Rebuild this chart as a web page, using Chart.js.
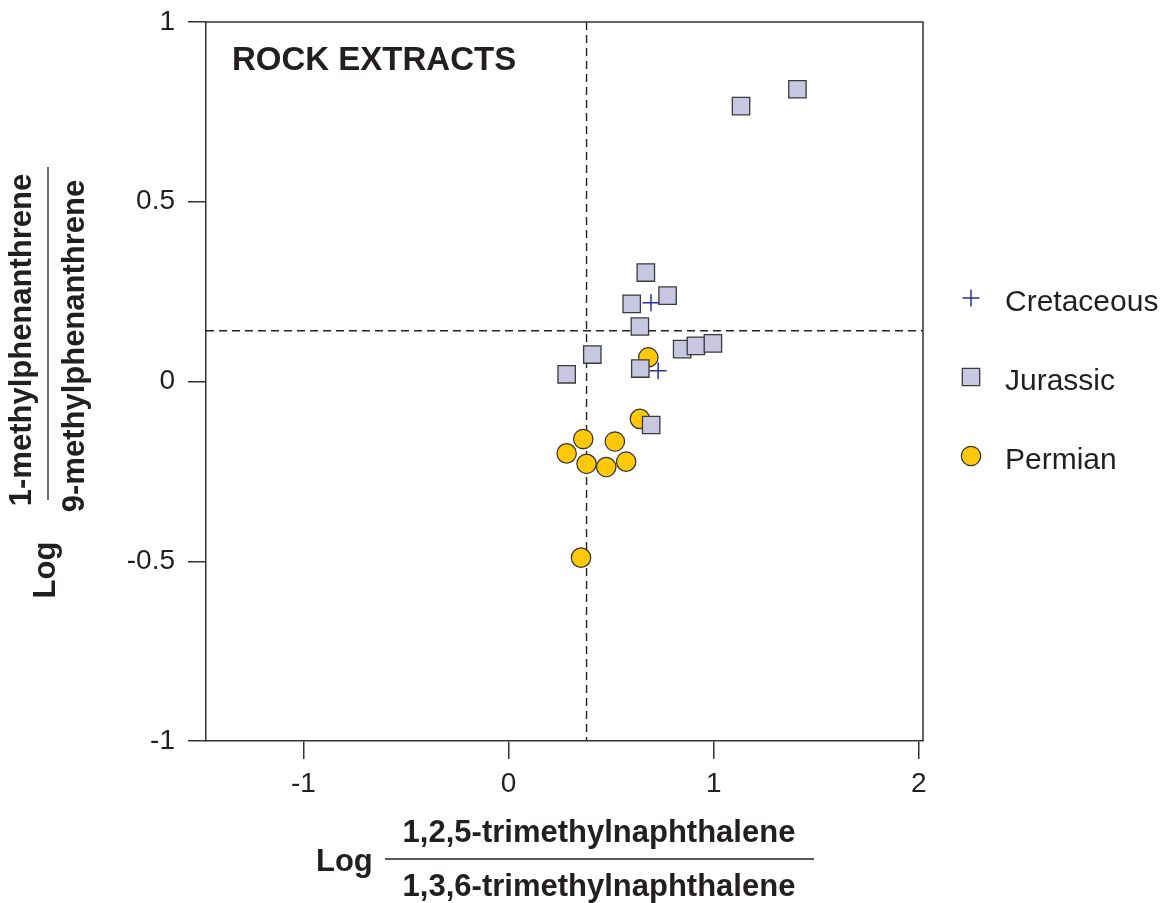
<!DOCTYPE html>
<html>
<head>
<meta charset="utf-8">
<script src="https://cdn.jsdelivr.net/npm/chart.js@4.4.0/dist/chart.umd.min.js"></script>
<style>
  body { margin: 0; background: #fff; }
  #wrap { width: 1167px; height: 903px; }
</style>
</head>
<body>
<div id="wrap"><canvas id="rock" width="1167" height="903"></canvas></div>
<script>
// series values
var cretaceousX = [0.694, 0.729];
var cretaceousY = [0.219, 0.030];

var jurassicX = [0.669, 0.600, 0.775, 0.640, 0.846, 0.913, 0.996, 0.408, 0.642, 0.283, 0.695, 1.133, 1.408];
var jurassicY = [0.303, 0.216, 0.239, 0.153, 0.090, 0.099, 0.106, 0.075, 0.036, 0.020, -0.121, 0.766, 0.813];

var permianX = [0.681, 0.640, 0.364, 0.283, 0.518, 0.380, 0.476, 0.573, 0.353];
var permianY = [0.067, -0.104, -0.160, -0.200, -0.167, -0.229, -0.238, -0.223, -0.490];

var seriesNames = ['Cretaceous', 'Jurassic', 'Permian'];
var xTicks = [-1, 0, 1, 2];
var yTicks = [-1, -0.5, 0, 0.5, 1];
// reference lines
var refX = 0.38;
var refY = 0.141;

function pts(xs, ys) {
	var out = [];
	for (var i = 0; i < xs.length; i++) out.push({x: xs[i], y: ys[i]});
	return out;
}

var AXIS = '#333333';
var TXT = '#231f20';

// dashed reference lines, box top/right, axis titles, legend
var extras = {
	id: 'extras',
	beforeDatasetsDraw: function(chart) {
		var ctx = chart.ctx, a = chart.chartArea;
		var px = chart.scales.x.getPixelForValue(refX);
		var py = chart.scales.y.getPixelForValue(refY);
		ctx.save();
		ctx.strokeStyle = '#222';
		ctx.lineWidth = 1.4;
		ctx.setLineDash([8, 5]);
		ctx.beginPath();
		ctx.moveTo(px, a.top); ctx.lineTo(px, a.bottom);
		ctx.moveTo(a.left, py); ctx.lineTo(a.right, py);
		ctx.stroke();
		ctx.restore();
	},
	afterDraw: function(chart) {
		var ctx = chart.ctx, a = chart.chartArea;
		ctx.save();
		// box top and right
		ctx.strokeStyle = AXIS;
		ctx.lineWidth = 1.5;
		ctx.beginPath();
		ctx.moveTo(a.left, a.top); ctx.lineTo(a.right, a.top); ctx.lineTo(a.right, a.bottom);
		ctx.stroke();

		ctx.fillStyle = TXT;
		ctx.font = 'bold 33px "Liberation Sans", Arial, sans-serif';
		ctx.textAlign = 'left';
		ctx.textBaseline = 'alphabetic';
		ctx.fillText('ROCK EXTRACTS', a.left + 26, 70);

		// x title
		ctx.font = 'bold 31px "Liberation Sans", Arial, sans-serif';
		ctx.textAlign = 'center';
		ctx.textBaseline = 'middle';
		ctx.fillText('1,2,5-trimethylnaphthalene', 599, 833);
		ctx.fillText('1,3,6-trimethylnaphthalene', 599, 887);
		ctx.textAlign = 'left';
		ctx.fillText('Log', 316, 862);
		ctx.lineWidth = 1.3;
		ctx.strokeStyle = TXT;
		ctx.beginPath();
		ctx.moveTo(385, 859); ctx.lineTo(814, 859);
		ctx.stroke();

		// y title (rotated)
		ctx.save();
		ctx.rotate(-Math.PI / 2);
		ctx.textAlign = 'center';
		ctx.fillText('1-methylphenanthrene', -340, 22);
		ctx.fillText('9-methylphenanthrene', -346, 75);
		ctx.fillText('Log', -570, 46);
		ctx.beginPath();
		ctx.moveTo(-167, 48); ctx.lineTo(-500, 48);
		ctx.stroke();
		ctx.restore();

		// legend
		var ds = chart.data.datasets;
		var ly = [298, 377, 456];
		var lx = 971;
		for (var i = 0; i < ds.length; i++) {
			var d = ds[i], y = ly[i];
			ctx.lineWidth = d.borderWidth;
			ctx.strokeStyle = d.borderColor;
			ctx.fillStyle = d.backgroundColor;
			ctx.beginPath();
			if (d.pointStyle === 'cross') {
				ctx.moveTo(lx - 8.5, y); ctx.lineTo(lx + 8.5, y);
				ctx.moveTo(lx, y - 8.5); ctx.lineTo(lx, y + 8.5);
				ctx.stroke();
			} else if (d.pointStyle === 'rect') {
				ctx.rect(lx - 8.7, y - 8.7, 17.4, 17.4);
				ctx.fill(); ctx.stroke();
			} else {
				ctx.arc(lx, y, 9.7, 0, Math.PI * 2);
				ctx.fill(); ctx.stroke();
			}
			ctx.fillStyle = TXT;
			ctx.font = '30px "Liberation Sans", Arial, sans-serif';
			ctx.textAlign = 'left';
			ctx.textBaseline = 'alphabetic';
			ctx.fillText(d.label, 1005, y + 13);
		}
		ctx.restore();
	}
};

var tickFont = {family: '"Liberation Sans", Arial, sans-serif', size: 28};

function noPad(s) {
	s.paddingTop = 0; s.paddingBottom = 0; s.paddingLeft = 0; s.paddingRight = 0;
}

var config = {
	type: 'scatter',
	data: {
		datasets: [{
			label: seriesNames[0],
			data: pts(cretaceousX, cretaceousY),
			pointStyle: 'cross',
			pointRadius: 8.5,
			borderColor: '#2e2e9a',
			backgroundColor: '#2e2e9a',
			borderWidth: 1.5
		}, {
			label: seriesNames[1],
			data: pts(jurassicX, jurassicY),
			pointStyle: 'rect',
			pointRadius: 12.3,
			backgroundColor: '#c8c7e1',
			borderColor: '#3a3a3a',
			borderWidth: 1.3
		}, {
			label: seriesNames[2],
			data: pts(permianX, permianY),
			pointStyle: 'circle',
			pointRadius: 9.7,
			backgroundColor: '#ffc80b',
			borderColor: '#333333',
			borderWidth: 1.2
		}]
	},
	options: {
		responsive: false,
		animation: false,
		events: [],
		layout: { padding: { left: 0, right: 244, top: 22, bottom: 0 } },
		plugins: { legend: { display: false }, tooltip: { enabled: false } },
		scales: {
			x: {
				type: 'linear',
				min: -1.475,
				max: 2.02,
				afterFit: function(s) { s.height = 162; noPad(s); },
				afterBuildTicks: function(s) { s.ticks = xTicks.map(function(v) { return {value: v}; }); },
				ticks: { font: tickFont, color: TXT, padding: 8, includeBounds: false },
				grid: { drawOnChartArea: false, drawTicks: true, tickLength: 18, color: AXIS, lineWidth: 1.5 },
				border: { display: true, color: AXIS, width: 1.5 }
			},
			y: {
				type: 'linear',
				min: -1,
				max: 1,
				afterFit: function(s) { s.width = 206; noPad(s); },
				afterBuildTicks: function(s) { s.ticks = yTicks.map(function(v) { return {value: v}; }); },
				ticks: { font: tickFont, color: TXT, padding: 13, callback: function(v) { return String(v); } },
				grid: { drawOnChartArea: false, drawTicks: true, tickLength: 18, color: AXIS, lineWidth: 1.5 },
				border: { display: true, color: AXIS, width: 1.5 }
			}
		}
	},
	plugins: [extras]
};

new Chart(document.getElementById('rock'), config);
</script>
</body>
</html>
